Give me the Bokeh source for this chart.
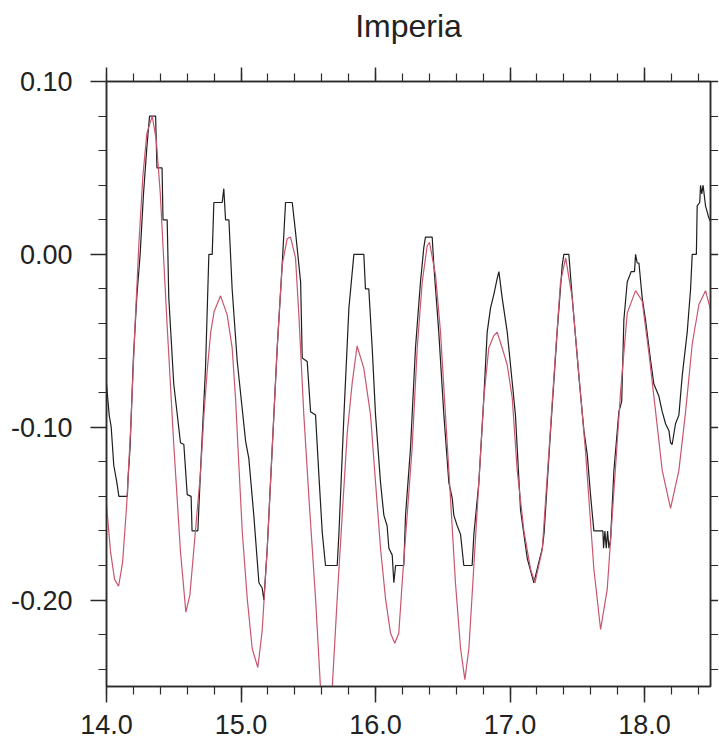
import numpy as np
from bokeh.plotting import figure
from bokeh.models import (LinearAxis, FixedTicker, PrintfTickFormatter, Range1d,
                          CustomLabelingPolicy)
from bokeh.embed import file_html
from bokeh.resources import INLINE

TITLE = "Imperia"

# x tick labels (day) and y tick labels (m)
X_TICKS = [14.0, 15.0, 16.0, 17.0, 18.0]
Y_TICKS = [-0.20, -0.10, 0.00, 0.10]

# observed sea level (black, cm-quantised)
OBS_X = [14.000, 14.020, 14.035, 14.054, 14.075, 14.092, 14.155, 14.160, 14.175, 14.200,
         14.225, 14.250, 14.275, 14.300, 14.320, 14.365, 14.375, 14.413, 14.420, 14.451,
         14.463, 14.500, 14.550, 14.575, 14.600, 14.629, 14.636, 14.679, 14.699, 14.736,
         14.761, 14.786, 14.798, 14.860, 14.872, 14.885, 14.910, 14.934, 14.972, 15.034,
         15.058, 15.095, 15.133, 15.157, 15.170, 15.195, 15.232, 15.269, 15.306, 15.331,
         15.381, 15.405, 15.443, 15.455, 15.492, 15.517, 15.554, 15.579, 15.604, 15.628,
         15.715, 15.728, 15.765, 15.802, 15.839, 15.913, 15.925, 15.950, 15.975, 16.000,
         16.037, 16.062, 16.086, 16.099, 16.124, 16.136, 16.149, 16.210, 16.223, 16.260,
         16.297, 16.334, 16.359, 16.371, 16.421, 16.433, 16.470, 16.508, 16.545, 16.570,
         16.582, 16.607, 16.632, 16.656, 16.718, 16.731, 16.768, 16.805, 16.830, 16.855,
         16.880, 16.904, 16.917, 16.941, 16.979, 17.016, 17.040, 17.078, 17.103, 17.128,
         17.177, 17.214, 17.240, 17.253, 17.301, 17.350, 17.388, 17.400, 17.437, 17.462,
         17.512, 17.549, 17.574, 17.598, 17.623, 17.690, 17.695, 17.705, 17.715, 17.725,
         17.735, 17.747, 17.772, 17.809, 17.830, 17.846, 17.871, 17.900, 17.925, 17.933,
         17.945, 17.958, 17.982, 18.007, 18.044, 18.069, 18.106, 18.131, 18.156, 18.181,
         18.193, 18.205, 18.230, 18.255, 18.280, 18.317, 18.342, 18.354, 18.385, 18.391,
         18.410, 18.416, 18.425, 18.435, 18.453, 18.478, 18.490]
OBS_Y = [-0.075, -0.093, -0.100, -0.122, -0.131, -0.140, -0.140, -0.130, -0.112, -0.060,
         -0.025, 0.000, 0.035, 0.062, 0.080, 0.080, 0.050, 0.050, 0.020, 0.020,
         -0.025, -0.075, -0.109, -0.110, -0.139, -0.140, -0.160, -0.160, -0.125, -0.066,
         0.000, 0.000, 0.030, 0.030, 0.038, 0.020, 0.020, -0.020, -0.062, -0.108,
         -0.118, -0.151, -0.190, -0.193, -0.200, -0.170, -0.112, -0.054, -0.006, 0.030,
         0.030, 0.013, -0.016, -0.060, -0.062, -0.091, -0.093, -0.128, -0.161, -0.180,
         -0.180, -0.161, -0.093, -0.031, 0.000, 0.000, -0.020, -0.020, -0.054, -0.093,
         -0.132, -0.151, -0.157, -0.170, -0.174, -0.190, -0.180, -0.180, -0.151, -0.112,
         -0.054, -0.016, 0.004, 0.010, 0.010, -0.006, -0.045, -0.093, -0.132, -0.141,
         -0.151, -0.157, -0.162, -0.180, -0.180, -0.162, -0.132, -0.083, -0.045, -0.031,
         -0.023, -0.014, -0.010, -0.025, -0.045, -0.074, -0.093, -0.148, -0.162, -0.176,
         -0.190, -0.178, -0.170, -0.161, -0.102, -0.045, -0.006, 0.000, 0.000, -0.025,
         -0.071, -0.102, -0.116, -0.139, -0.160, -0.160, -0.170, -0.160, -0.170, -0.160,
         -0.170, -0.165, -0.125, -0.091, -0.085, -0.038, -0.016, -0.010, -0.010, 0.000,
         -0.005, -0.005, -0.025, -0.038, -0.061, -0.075, -0.082, -0.091, -0.098, -0.102,
         -0.109, -0.110, -0.098, -0.093, -0.070, -0.045, -0.020, 0.000, 0.000, 0.028,
         0.030, 0.040, 0.035, 0.040, 0.028, 0.021, 0.019]

# model sea level (red)
MOD_X = [14.000, 14.030, 14.060, 14.090, 14.120, 14.150, 14.180, 14.210, 14.240, 14.270,
         14.300, 14.340, 14.370, 14.400, 14.450, 14.500, 14.550, 14.590, 14.620, 14.650,
         14.700, 14.725, 14.750, 14.775, 14.800, 14.848, 14.897, 14.934, 14.959, 14.984,
         15.009, 15.046, 15.083, 15.125, 15.157, 15.195, 15.232, 15.269, 15.306, 15.343,
         15.368, 15.405, 15.430, 15.467, 15.505, 15.554, 15.591, 15.635, 15.678, 15.715,
         15.752, 15.790, 15.827, 15.863, 15.913, 15.963, 16.000, 16.037, 16.074, 16.111,
         16.143, 16.173, 16.198, 16.235, 16.272, 16.310, 16.347, 16.384, 16.401, 16.446,
         16.483, 16.520, 16.557, 16.594, 16.632, 16.664, 16.694, 16.731, 16.768, 16.805,
         16.842, 16.880, 16.904, 16.941, 16.979, 17.016, 17.053, 17.103, 17.152, 17.185,
         17.239, 17.289, 17.338, 17.375, 17.413, 17.462, 17.512, 17.561, 17.623, 17.673,
         17.722, 17.772, 17.821, 17.871, 17.933, 17.982, 18.032, 18.082, 18.131, 18.193,
         18.255, 18.305, 18.354, 18.404, 18.453, 18.490]
MOD_Y = [-0.145, -0.172, -0.188, -0.192, -0.178, -0.145, -0.100, -0.045, 0.005, 0.045,
         0.070, 0.080, 0.066, 0.035, -0.040, -0.110, -0.172, -0.207, -0.197, -0.170,
         -0.125, -0.092, -0.066, -0.045, -0.033, -0.024, -0.035, -0.054, -0.083, -0.122,
         -0.160, -0.199, -0.228, -0.239, -0.218, -0.170, -0.112, -0.054, -0.006, 0.009,
         0.010, -0.002, -0.035, -0.093, -0.141, -0.199, -0.251, -0.272, -0.251, -0.199,
         -0.151, -0.103, -0.074, -0.053, -0.066, -0.093, -0.132, -0.170, -0.199, -0.219,
         -0.225, -0.219, -0.190, -0.151, -0.112, -0.054, -0.016, 0.005, 0.007, -0.012,
         -0.045, -0.093, -0.141, -0.190, -0.228, -0.246, -0.228, -0.180, -0.132, -0.083,
         -0.054, -0.047, -0.045, -0.054, -0.064, -0.083, -0.125, -0.160, -0.182, -0.190,
         -0.171, -0.114, -0.057, -0.016, -0.002, -0.025, -0.070, -0.114, -0.182, -0.217,
         -0.194, -0.137, -0.080, -0.034, -0.021, -0.027, -0.057, -0.091, -0.125, -0.147,
         -0.125, -0.091, -0.052, -0.029, -0.021, -0.032]

FONT = "Liberation Sans"
AX = "#2b2b2b"

p = figure(frame_width=604, frame_height=605,
           x_range=Range1d(14.0, 18.49), y_range=Range1d(-0.25, 0.10),
           output_backend="svg", toolbar_location=None, title_location=None,
           min_border_left=106, min_border_top=81, min_border_bottom=61, min_border_right=8)
p.background_fill_color = "white"
p.border_fill_color = "white"
p.grid.visible = False
p.outline_line_color = AX
p.outline_line_width = 1.5

x_minor = [round(v, 1) for v in np.arange(14.0, 18.5, 0.2)]
y_minor = [round(v, 2) for v in np.arange(-0.24, 0.101, 0.02)]
xt = FixedTicker(ticks=X_TICKS, minor_ticks=x_minor)
yt = FixedTicker(ticks=Y_TICKS, minor_ticks=y_minor)

hide_all = CustomLabelingPolicy(code="""
for (const i of indices) { indices.unset(i) }
return indices
""")

def style(ax, major_out, minor_out, labels=True):
    ax.axis_line_color = AX
    ax.axis_line_width = 1.5
    ax.major_tick_line_color = AX
    ax.minor_tick_line_color = AX
    ax.major_tick_line_width = 1.5
    ax.minor_tick_line_width = 1.2
    ax.major_tick_in = 0
    ax.minor_tick_in = 0
    ax.major_tick_out = major_out
    ax.minor_tick_out = minor_out
    if labels:
        ax.major_label_text_font = FONT
        ax.major_label_text_font_size = "27px"
        ax.major_label_text_color = "#222222"
    else:
        ax.major_label_text_font_size = "0px"
        ax.major_label_standoff = 0
        ax.major_label_policy = hide_all

xb = p.xaxis[0]
xb.ticker = xt
xb.formatter = PrintfTickFormatter(format="%.1f")
style(xb, 16, 8)
xb.major_label_standoff = 12

yl = p.yaxis[0]
yl.ticker = yt
yl.formatter = PrintfTickFormatter(format="%.2f")
style(yl, 16, 8)
yl.major_label_standoff = 18

# top axis: ticks only, carries the plot title as its label
xtop = LinearAxis(ticker=FixedTicker(ticks=X_TICKS, minor_ticks=x_minor))
style(xtop, 14, 8, labels=False)
xtop.axis_label = TITLE
xtop.axis_label_text_font = FONT
xtop.axis_label_text_font_size = "32px"
xtop.axis_label_text_font_style = "normal"
xtop.axis_label_text_color = "#222222"
xtop.axis_label_standoff = 24
p.add_layout(xtop, "above")

yr = LinearAxis(ticker=FixedTicker(ticks=Y_TICKS, minor_ticks=y_minor))
style(yr, 8, 8, labels=False)
p.add_layout(yr, "right")

p.line(OBS_X, OBS_Y, line_color="#1e1e1e", line_width=1.2)
p.line(MOD_X, MOD_Y, line_color="#c8566e", line_width=1.2)

open("out.html", "w").write(file_html(p, INLINE))
